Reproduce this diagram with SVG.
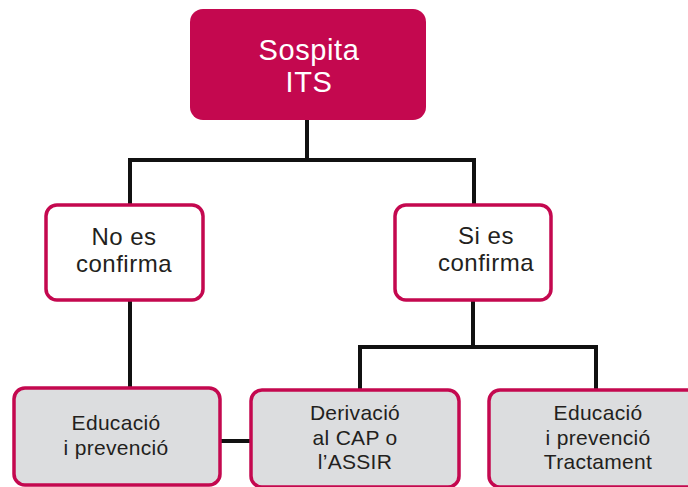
<svg xmlns="http://www.w3.org/2000/svg" width="688" height="487" viewBox="0 0 688 487">
<style>
.t{font-family:"Liberation Sans",Arial,sans-serif;fill:#231f20;text-anchor:middle}
.mid{fill:#fff;stroke:#c4084f;stroke-width:3.5}
.bot{fill:#dcdddf;stroke:#c4084f;stroke-width:3.5}
.c{stroke:#111;stroke-width:4;fill:none}
</style>
<rect width="688" height="487" fill="#fff"/>
<g id="connectors">
<path class="c" d="M307,120V160M128,160H476M130,160V204M474,160V204"/>
<path class="c" d="M130,300V387M473,300V347M358,347H598M360,347V389M596,347V389M220,441H250"/>
</g>
<g id="sospita">
<rect x="190" y="9" width="236" height="111" rx="13" fill="#c4084f"/>
<text class="t" x="309" y="60" font-size="29" letter-spacing="0.6" style="fill:#fff">Sospita</text>
<text class="t" x="309" y="92" font-size="29" letter-spacing="0.6" style="fill:#fff">ITS</text>
</g>
<g id="no">
<rect class="mid" x="46" y="205" width="157" height="95" rx="11"/>
<text class="t" x="124" y="245" font-size="24" letter-spacing="0.5">No es</text>
<text class="t" x="124" y="272" font-size="24" letter-spacing="0.5">confirma</text>
</g>
<g id="si">
<rect class="mid" x="395" y="205" width="156" height="95" rx="11"/>
<text class="t" x="486" y="244" font-size="24" letter-spacing="0.5">Si es</text>
<text class="t" x="486" y="271" font-size="24" letter-spacing="0.5">confirma</text>
</g>
<g id="edu1">
<rect class="bot" x="14" y="388" width="206" height="97" rx="11"/>
<text class="t" x="116" y="430" font-size="21" letter-spacing="0.3">Educació</text>
<text class="t" x="116" y="455" font-size="21" letter-spacing="0.3">i prevenció</text>
</g>
<g id="derivacio">
<rect class="bot" x="251" y="390" width="208" height="97" rx="11"/>
<text class="t" x="355" y="420" font-size="21" letter-spacing="0.3">Derivació</text>
<text class="t" x="355" y="445" font-size="21" letter-spacing="0.3">al CAP o</text>
<text class="t" x="355" y="469" font-size="21" letter-spacing="0.3">l’ASSIR</text>
</g>
<g id="edu2">
<rect class="bot" x="489" y="390" width="210" height="97" rx="11"/>
<text class="t" x="598" y="420" font-size="21" letter-spacing="0.3">Educació</text>
<text class="t" x="598" y="445" font-size="21" letter-spacing="0.3">i prevenció</text>
<text class="t" x="598" y="469" font-size="21" letter-spacing="0.3">Tractament</text>
</g>
</svg>
